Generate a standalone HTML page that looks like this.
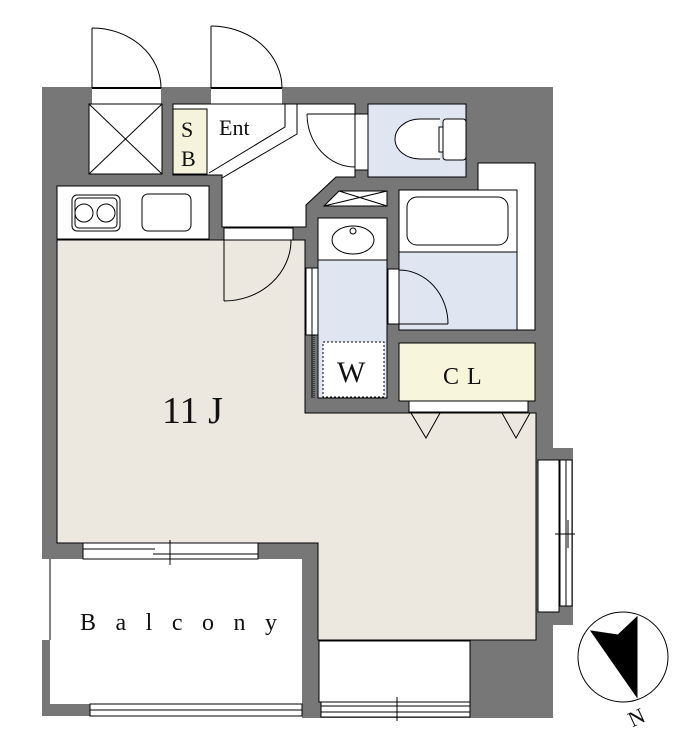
<!DOCTYPE html>
<html><head><meta charset="utf-8"><style>
html,body{margin:0;padding:0;background:#fff;}
svg{display:block;}
text{font-family:"Liberation Serif",serif;fill:#111;}
</style></head><body>
<svg width="698" height="752" viewBox="0 0 698 752" xmlns="http://www.w3.org/2000/svg">
<g stroke="#000" stroke-width="1" fill="none">
<rect x="42" y="87" width="511" height="472" fill="#777" stroke="none"/>
<rect x="302" y="540" width="251" height="178" fill="#777" stroke="none"/>
<rect x="536" y="448" width="37" height="177" fill="#777" stroke="none"/>
<rect x="42" y="640" width="48" height="76" fill="#777" stroke="none"/>
<rect x="50" y="559" width="252" height="145" fill="#fff" stroke="none"/>
<line x1="50" y1="559" x2="50" y2="640"/>
<rect x="90" y="704" width="212" height="12" fill="#fff"/>
<line x1="90" y1="710" x2="302" y2="710"/>
<polygon points="57,240 305,240 305,413 536,413 536,640 318,640 318,543 57,543" fill="#ece8df"/>
<rect x="83" y="543" width="175" height="16" fill="#fff"/>
<line x1="83" y1="549" x2="155" y2="549"/><line x1="153" y1="554" x2="258" y2="554"/>
<line x1="170" y1="540" x2="170" y2="565"/>
<rect x="319" y="641" width="151" height="61" fill="#fff"/>
<rect x="321" y="702" width="149" height="15" fill="#fff"/>
<line x1="321" y1="706" x2="470" y2="706"/><line x1="380" y1="712" x2="470" y2="712"/>
<line x1="397" y1="697" x2="397" y2="721"/><line x1="321" y1="712" x2="413" y2="712"/>
<rect x="538" y="460" width="21" height="152" fill="#fff"/>
<rect x="560" y="460" width="12" height="146" fill="#fff"/>
<line x1="566" y1="460" x2="566" y2="606"/>
<line x1="555" y1="534" x2="575" y2="534"/><line x1="568" y1="520" x2="568" y2="548"/>
<rect x="409" y="401" width="119" height="11" fill="#fff"/>
<polyline points="411,413 426,438 440,413"/>
<polyline points="502,413 516,438 530,413"/>
<rect x="92" y="88" width="69" height="16" fill="#fff" stroke="none"/>
<line x1="92" y1="88" x2="161" y2="88" stroke-width="2"/>
<rect x="211" y="88" width="71" height="16" fill="#fff" stroke="none"/>
<line x1="211" y1="88" x2="282" y2="88" stroke-width="2"/>
<line x1="92" y1="28" x2="92" y2="88"/><path d="M92,28 A69,60 0 0 1 161,88"/>
<line x1="211" y1="26" x2="211" y2="88"/><path d="M211,26 A71,62 0 0 1 282,88"/>
<rect x="89" y="104" width="73" height="70" fill="#fff"/>
<line x1="89" y1="104" x2="162" y2="174"/><line x1="162" y1="104" x2="89" y2="174"/>
<polygon points="173,104 355,104 355,177 336,177 306,205 306,227 222,227 222,175 173,175" fill="#fff"/>
<rect x="173" y="109" width="34" height="65" fill="#f5f3dc"/>
<polyline points="209,173 285,127 285,104"/>
<polyline points="222,178 297,134 297,104"/>
<rect x="355" y="114" width="13" height="56" fill="#fff"/>
<line x1="307" y1="114" x2="355" y2="114"/><path d="M307,114 A48,53 0 0 0 355,167"/>
<rect x="368" y="104" width="98" height="73" fill="#dfe6f2"/>
<path d="M440,119 L420,119 A25,20 0 0 0 420,159 L440,159" fill="#fff"/>
<rect x="443" y="119" width="23" height="41" rx="3" fill="#fff"/>
<rect x="439" y="127" width="4" height="25" fill="#fff"/>
<rect x="478" y="163" width="57" height="167" fill="#fff"/>
<rect x="399" y="190" width="118" height="140" fill="#dfe6f2"/>
<rect x="399" y="190" width="118" height="62" fill="#fff"/>
<rect x="407" y="197" width="101" height="48" rx="10" fill="#fff"/>
<rect x="388" y="269" width="11" height="55" fill="#fff"/>
<line x1="399" y1="324" x2="448" y2="324"/><path d="M399,270 A49,54 0 0 1 448,324"/>
<polygon points="339,191 387,191 387,206 324,206" fill="#fff"/>
<line x1="339" y1="191" x2="387" y2="206"/><line x1="387" y1="191" x2="324" y2="206"/>
<rect x="318" y="218" width="69" height="180" fill="#dfe6f2"/>
<rect x="318" y="218" width="69" height="42" fill="#fff"/>
<ellipse cx="353" cy="240" rx="21" ry="14" fill="#fff"/>
<circle cx="353" cy="231" r="3"/>
<rect x="323" y="342" width="61" height="55" fill="#fff" stroke-dasharray="2,2"/>
<rect x="306" y="268" width="12" height="67" fill="#fff"/>
<line x1="312" y1="268" x2="312" y2="398"/>
<line x1="314" y1="335" x2="314" y2="398" stroke-dasharray="1,1"/>
<rect x="399" y="343" width="136" height="58" fill="#f7f6dc"/>
<rect x="57" y="186" width="152" height="53" fill="#fff"/>
<rect x="72" y="195" width="48" height="36" rx="5"/>
<rect x="75" y="198" width="42" height="30" rx="4"/>
<circle cx="84" cy="213" r="9"/><circle cx="106" cy="213" r="9"/>
<rect x="142" y="194" width="49" height="37" rx="6"/>
<rect x="224" y="228" width="69" height="12" fill="#fff"/>
<line x1="224" y1="240" x2="224" y2="301"/><path d="M224,301 A67,61 0 0 0 291,240"/>
<circle cx="623" cy="657" r="45"/>
<polygon points="591,631 618,635 637,617 637,697" fill="#000"/>
</g>
<text x="181" y="137" font-size="22">S</text>
<text x="181" y="166" font-size="22">B</text>
<text x="219" y="135" font-size="22">Ent</text>
<text x="337" y="382" font-size="30">W</text>
<text x="443" y="384" font-size="24" letter-spacing="8">CL</text>
<text x="162" y="423" font-size="38">11 J</text>
<text x="80" y="630" font-size="24" letter-spacing="19.5">Balcony</text>
<text x="628" y="724" font-size="22" transform="rotate(-25 638 716)">N</text>
</svg>
</body></html>
